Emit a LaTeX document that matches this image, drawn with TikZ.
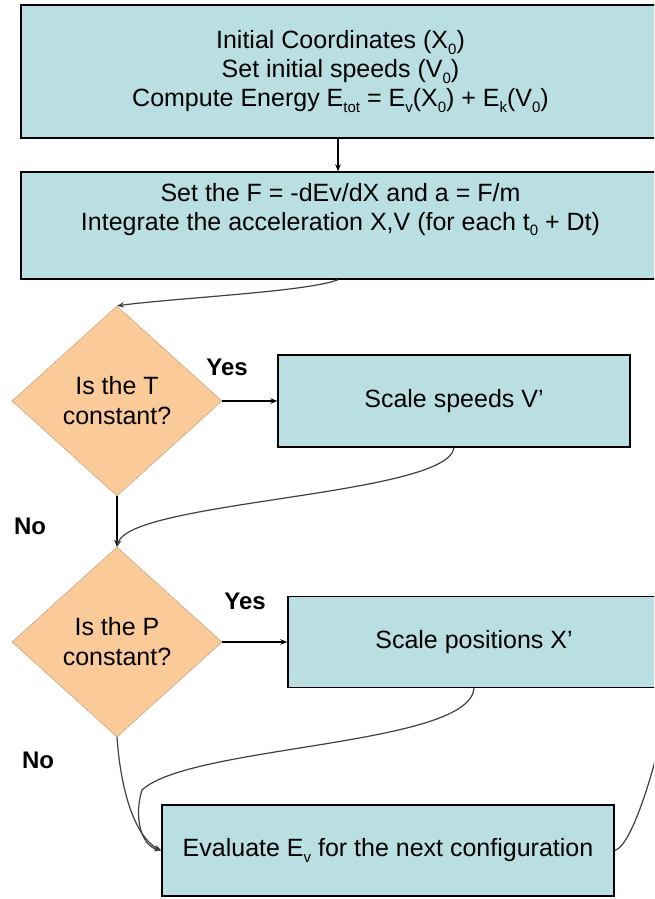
\documentclass[tikz,border=0pt]{standalone}
\usepackage{fontspec}
\setmainfont{Liberation Sans}
\usetikzlibrary{shapes.geometric,arrows.meta}
\definecolor{boxblue}{RGB}{185,223,227}
\definecolor{peach}{RGB}{250,202,152}
\newcommand{\lowsub}[1]{\raisebox{-0.4ex}{\fontsize{15}{15}\selectfont #1}}
\begin{document}
\begin{tikzpicture}[x=1pt,y=-1pt,
  procbox/.style={draw=black,line width=1.4pt,fill=boxblue,rectangle,inner sep=0pt,align=center,font=\fontsize{25}{29}\selectfont},
  decbox/.style={diamond,fill=peach,draw=peach!75!black,line width=0.4pt,inner sep=0pt,minimum width=210pt,minimum height=190pt,align=center,font=\fontsize{25}{30}\selectfont},
  conn/.style={line width=1.2pt,-{Stealth[length=7pt,width=5.5pt]}},
  curveconn/.style={conn,draw=black!75},
  lbl/.style={font=\bfseries\fontsize{24}{28}\selectfont,inner sep=0pt}]
\useasboundingbox (0,0) rectangle (654,899);
\clip (0,0) rectangle (654,899);
% boxes
\node[procbox,minimum width=639pt,minimum height=133pt] (init) at (340.5,71.5)
  {Initial Coordinates (X\lowsub{0})\\Set initial speeds (V\lowsub{0})\\Compute Energy E\lowsub{tot} = E\lowsub{v}(X\lowsub{0}) + E\lowsub{k}(V\lowsub{0})};
\node[procbox,minimum width=639pt,minimum height=107pt] (integ) at (340.5,225.5)
  {Set the F = -dEv/dX and a = F/m\\Integrate the acceleration X,V (for each t\lowsub{0} + Dt)\\\strut};
\node[decbox] (dT) at (117,401) {Is the T\\constant?};
\node[procbox,minimum width=352pt,minimum height=92pt] (speeds) at (454,401) {Scale speeds V’};
\node[decbox] (dP) at (117,642) {Is the P\\constant?};
\node[procbox,minimum width=372pt,minimum height=91pt] (positions) at (474,642) {Scale positions X’};
\node[procbox,minimum width=452pt,minimum height=91pt] (evalE) at (388,850.5) {Evaluate E\lowsub{v} for the next configuration};
% labels
\node[lbl] (yes1) at (227,367) {Yes};
\node[lbl] (yes2) at (245,601) {Yes};
\node[lbl] (no1) at (30,526) {No};
\node[lbl] (no2) at (38,760) {No};
% connectors
\draw[conn] ([xshift=-2.5pt]init.south) -- ([xshift=-2.5pt]integ.north);
\draw[curveconn] ([xshift=-2.5pt]integ.south) .. controls +(-30,12) and +(60,-8) .. (dT.north);
\draw[conn] (dT.east) -- (speeds.west);
\draw[conn] (dT.south) -- (dP.north);
\draw[curveconn] (speeds.south) .. controls +(-6,48) and +(13,-46) .. (dP.north);
\draw[conn] (dP.east) -- (positions.west);
\draw[curveconn] (dP.south) .. controls +(5,70) and +(-20,-10) .. (evalE.west);
\draw[curveconn] (positions.south) .. controls +(-4,58) and (190,745) .. (142,790)
  .. controls (134,815) and (140,845) .. (evalE.west);
\coordinate (loopend) at (668,700);
\draw[curveconn,-] (evalE.east) .. controls +(20,-5) and +(-5,40) .. (loopend);
\end{tikzpicture}
\end{document}
